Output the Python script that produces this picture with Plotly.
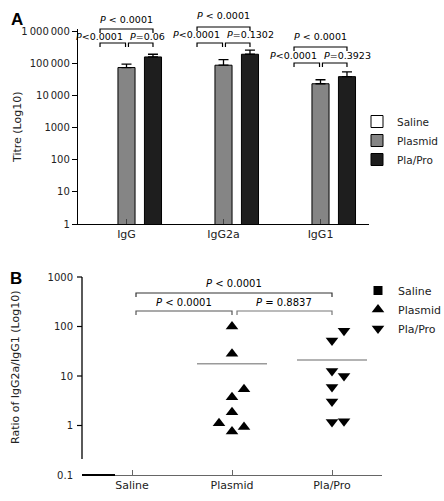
import numpy as np
import plotly.graph_objects as go

# ---------------- data ----------------
isotypes = ["IgG", "IgG2a", "IgG1"]
groups = ["Saline", "Plasmid", "Pla/Pro"]

saline_titre = [None, None, None]
plasmid_titre = [77000, 91000, 24000]
plapro_titre = [165000, 200000, 40000]
plasmid_err = [21000, 45000, 8000]
plapro_err = [35000, 68000, 16000]

titre_ticks = [1, 10, 100, 1000, 10000, 100000, 1000000]
titre_ticktext = ["1", "10", "100", "1000", "10\u2009000", "100\u2009000", "1\u2009000\u2009000"]

# P values: (top: saline vs pla/pro, left: saline vs plasmid, right: plasmid vs pla/pro)
pvals_A = [
    ("<i>P</i> < 0.0001", "<i>P</i><0.0001", "<i>P</i>=0.06"),
    ("<i>P</i> < 0.0001", "<i>P</i><0.0001", "<i>P</i>=0.1302"),
    ("<i>P</i> < 0.0001", "<i>P</i><0.0001", "<i>P</i>=0.3923"),
]

ratio_saline = []
ratio_plasmid = [100, 28, 5.4, 3.7, 1.85, 1.11, 0.93, 0.76]
ratio_plapro = [82, 52, 12.6, 10, 6.0, 3.07, 1.17, 1.22]
ratio_ticks = [0.1, 1, 10, 100, 1000]
ratio_ticktext = ["0.1", "1", "10", "100", "1000"]
pvals_B = ("<i>P</i> < 0.0001", "<i>P</i> < 0.0001", "<i>P</i> = 0.8837")

# ---------------- layout constants ----------------
W, H = 444, 501
FONT = "DejaVu Sans"
def py(px):  # pixel y -> paper
    return 1 - px / H
def px_(x):  # pixel x -> paper
    return x / W

slot = 0.273
bw = 0.176
jit_plasmid = [0, 0, 0.12, 0, 0, -0.13, 0.12, 0]
jit_plapro = [0.12, 0, 0, 0.12, 0, 0, 0, 0.12]

fig = go.Figure()

xi = np.arange(len(isotypes))
bar_specs = [
    ("Saline", saline_titre, None, "white", -slot),
    ("Plasmid", plasmid_titre, plasmid_err, "#858585", 0.0),
    ("Pla/Pro", plapro_titre, plapro_err, "#1e1e1e", slot),
]
for name, vals, err, col, off in bar_specs:
    kw = {}
    if err is not None:
        kw["error_y"] = dict(type="data", array=err, arrayminus=[0] * len(err),
                             symmetric=False, color="black", thickness=1.3, width=5)
    fig.add_trace(go.Bar(
        x=xi, y=vals, name=name,
        width=bw, offset=off - bw / 2,
        marker=dict(color=col, line=dict(color="black", width=1)),
        xaxis="x", yaxis="y", legend="legend", **kw))

# Panel B scatter
fig.add_trace(go.Scatter(x=[None], y=[None], mode="markers", name="Saline",
                         marker=dict(symbol="square", size=9, color="black"),
                         xaxis="x2", yaxis="y2", legend="legend2"))
fig.add_trace(go.Scatter(x=[1 + j for j in jit_plasmid], y=ratio_plasmid, mode="markers",
                         name="Plasmid", marker=dict(symbol="triangle-up", size=11, color="black"),
                         xaxis="x2", yaxis="y2", legend="legend2"))
fig.add_trace(go.Scatter(x=[2 + j for j in jit_plapro], y=ratio_plapro, mode="markers",
                         name="Pla/Pro", marker=dict(symbol="triangle-down", size=11, color="black"),
                         xaxis="x2", yaxis="y2", legend="legend2"))
# mean lines
for i, vals in [(1, ratio_plasmid), (2, ratio_plapro)]:
    m = float(np.mean(vals))
    fig.add_trace(go.Scatter(x=[i - 0.35, i + 0.35], y=[m, m], mode="lines",
                             line=dict(color="#9a9a9a", width=1.6), showlegend=False,
                             hoverinfo="skip", xaxis="x2", yaxis="y2"))

shapes = []
annos = []
PF = dict(size=9.5, family=FONT, color="black")

# Panel A brackets
A_levels = [(29, 19, 43, 36), (27, 16, 43, 35), (47, 37, 63, 56)]  # top bracket, top text, low bracket, low text (px)
leg = 4
for i, (tb, tt, lb, lt) in enumerate(A_levels):
    xs, xp, xq = i - slot, i, i + slot
    ptop, pleft, pright = pvals_A[i]
    def bracket(x0, x1, ypx, color="black"):
        shapes.append(dict(type="path", xref="x", yref="paper",
                           path=f"M {x0},{py(ypx + leg)} L {x0},{py(ypx)} L {x1},{py(ypx)} L {x1},{py(ypx + leg)}",
                           line=dict(color=color, width=1.2)))
    bracket(xs, xq, tb)
    bracket(xs, xp - 0.01, lb)
    bracket(xp + 0.02, xq, lb)
    annos.append(dict(x=(xs + xq) / 2, y=py(tt), xref="x", yref="paper", text=ptop,
                      showarrow=False, font=PF, yanchor="middle", xanchor="center"))
    annos.append(dict(x=xp - 0.015, y=py(lt), xref="x", yref="paper", text=pleft,
                      showarrow=False, font=PF, yanchor="middle", xanchor="right"))
    annos.append(dict(x=xp + 0.015, y=py(lt), xref="x", yref="paper", text=pright,
                      showarrow=False, font=PF, yanchor="middle", xanchor="left"))

# Panel B brackets
def bracketB(x0, x1, ypx, color):
    shapes.append(dict(type="path", xref="x2", yref="paper",
                       path=f"M {x0},{py(ypx + leg)} L {x0},{py(ypx)} L {x1},{py(ypx)} L {x1},{py(ypx + leg)}",
                       line=dict(color=color, width=1.2)))
bracketB(0.04, 2.0, 293, "#333333")
bracketB(0.04, 1.0, 311, "#555555")
bracketB(1.05, 2.0, 311, "#777777")
PB = dict(size=10, family=FONT, color="black")
for xx, yy, t in [(1.02, 283, pvals_B[0]), (0.52, 302, pvals_B[1]), (1.52, 302, pvals_B[2])]:
    annos.append(dict(x=xx, y=py(yy), xref="x2", yref="paper", text=t, showarrow=False, font=PB,
                      xanchor="center", yanchor="middle"))

# Panel B y axis line (Prism-style, detached from x-axis) and ticks
yB0, yB1 = py(475), py(277)
shapes.append(dict(type="line", xref="paper", yref="paper", x0=px_(82), x1=px_(82),
                   y0=py(459), y1=yB1, line=dict(color="black", width=1.3)))
for v in ratio_ticks[1:]:
    f = (np.log10(v) - np.log10(ratio_ticks[0])) / (np.log10(ratio_ticks[-1]) - np.log10(ratio_ticks[0]))
    yy = yB0 + f * (yB1 - yB0)
    shapes.append(dict(type="line", xref="paper", yref="paper", x0=px_(77), x1=px_(82),
                       y0=yy, y1=yy, line=dict(color="black", width=1.2)))
# dark segment at the saline baseline
shapes.append(dict(type="line", xref="x2", yref="paper", x0=-0.5, x1=-0.17, y0=yB0, y1=yB0,
                   line=dict(color="black", width=1.8)))

# panel letters and y titles
for xx, yy, t, ang, fnt in [
    (17, 20, "<b>A</b>", 0, dict(size=17, family="Liberation Sans", color="black")),
    (16, 278, "<b>B</b>", 0, dict(size=17, family="Liberation Sans", color="black")),
    (17, 127, "Titre (Log10)", -90, dict(size=11, family=FONT, color="#222")),
    (15, 367, "Ratio of IgG2a/IgG1 (Log10)", -90, dict(size=11, family=FONT, color="#222")),
]:
    annos.append(dict(x=px_(xx), y=py(yy), xref="paper", yref="paper", text=t, textangle=ang,
                      showarrow=False, font=fnt, xanchor="center", yanchor="middle"))

fig.update_layout(
    width=W, height=H, margin=dict(l=0, r=0, t=0, b=0, autoexpand=False),
    paper_bgcolor="white", plot_bgcolor="white",
    font=dict(family=FONT, size=10, color="#222"),
    barmode="overlay",
    showlegend=True,
    xaxis=dict(domain=[px_(78), px_(369)], range=[-0.5, 2.5], tickvals=list(xi), ticktext=isotypes,
               ticks="inside", ticklen=5, tickcolor="#444", showline=True, linecolor="black", linewidth=1.3,
               showgrid=False, zeroline=False, anchor="y", tickfont=dict(size=11), fixedrange=True),
    yaxis=dict(domain=[py(224), py(29)], type="log", range=[0, 6.09], tickvals=titre_ticks,
               ticktext=titre_ticktext, ticks="outside", ticklen=5, tickcolor="black", showline=True,
               linecolor="black", linewidth=1.3, showgrid=False, zeroline=False, anchor="x",
               tickfont=dict(size=10)),
    xaxis2=dict(domain=[px_(82), px_(382)], range=[-0.5, 2.5], tickvals=[0, 1, 2], ticktext=groups,
                ticks="inside", ticklen=5, tickcolor="#666", showline=True, linecolor="#666", linewidth=1.2,
                showgrid=False, zeroline=False, anchor="y2", tickfont=dict(size=11)),
    yaxis2=dict(domain=[yB0, yB1], type="log", range=[-1, 3], tickvals=ratio_ticks, ticktext=ratio_ticktext,
                ticks="", showline=False, showgrid=False, zeroline=False, anchor="x2",
                tickfont=dict(size=10), ticklabelstandoff=8),
    legend=dict(x=px_(357), y=py(107), xanchor="left", yanchor="top", font=dict(size=10.5, family=FONT),
                bgcolor="rgba(0,0,0,0)", itemwidth=30, tracegroupgap=0),
    legend2=dict(x=px_(358), y=py(276), xanchor="left", yanchor="top", font=dict(size=11, family=FONT),
                 bgcolor="rgba(0,0,0,0)", itemwidth=30, tracegroupgap=0),
    shapes=shapes, annotations=annos,
)

fig.write_html("out.html", config={"displayModeBar": False},
               post_script="document.body.style.margin='0';document.body.style.padding='0';")
